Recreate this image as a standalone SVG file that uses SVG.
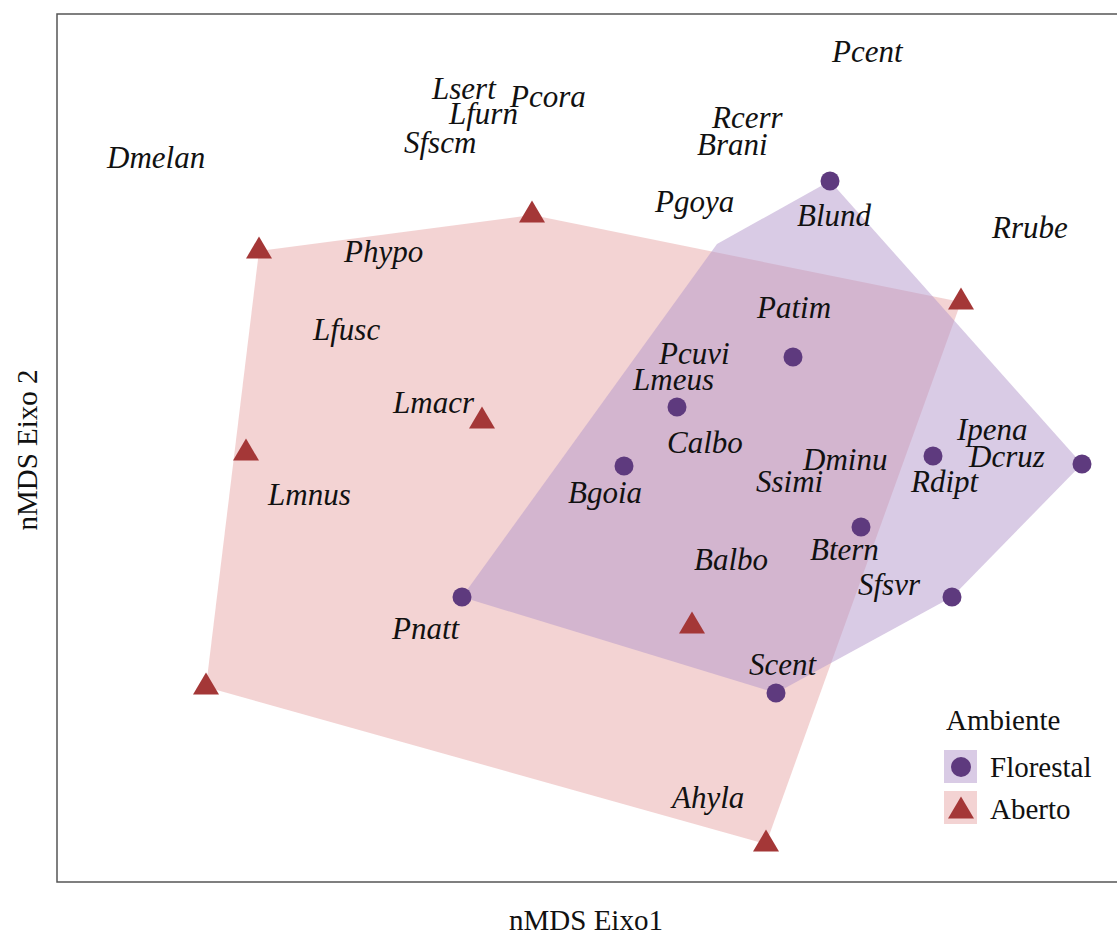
<svg xmlns="http://www.w3.org/2000/svg" width="1117" height="934" viewBox="0 0 1117 934">
<style>
.sp{font-family:"Liberation Serif","Times New Roman",serif;font-style:italic;font-size:31px;fill:#111}
.ax{font-family:"Liberation Serif","Times New Roman",serif;font-size:29px;fill:#111}
.flo{fill:#5e3a7e}
.abe{fill:#a43737}
.hp{fill:#e8a8a8;fill-opacity:0.5}
.hf{fill:#b497cc;fill-opacity:0.5}
</style>
<defs>
<path id="tri" d="M0,-14.5 L13,7.5 L-13,7.5 Z"/>
</defs>
<rect x="0" y="0" width="1117" height="934" fill="#fff"/>
<g id="hulls">
<polygon id="hull-aberto" class="hp" points="259,251 532,215 961,302 766,844 206,687"/>
<polygon id="hull-florestal" class="hf" points="830,181 717,244 462,597 776,693 952,597 1082,464"/>
</g>
<g id="points">
<g id="flo1"><circle class="flo" cx="830" cy="181" r="9.5"/></g>
<g id="flo2"><circle class="flo" cx="793" cy="357" r="9.5"/></g>
<g id="flo3"><circle class="flo" cx="677" cy="407" r="9.5"/></g>
<g id="flo4"><circle class="flo" cx="624" cy="466" r="9.5"/></g>
<g id="flo5"><circle class="flo" cx="933" cy="456" r="9.5"/></g>
<g id="flo6"><circle class="flo" cx="1082" cy="464" r="9.5"/></g>
<g id="flo7"><circle class="flo" cx="861" cy="527" r="9.5"/></g>
<g id="flo8"><circle class="flo" cx="462" cy="597" r="9.5"/></g>
<g id="flo9"><circle class="flo" cx="952" cy="597" r="9.5"/></g>
<g id="flo10"><circle class="flo" cx="776" cy="693" r="9.5"/></g>
<g id="abe1"><use href="#tri" class="abe" x="259" y="251"/></g>
<g id="abe2"><use href="#tri" class="abe" x="532" y="215"/></g>
<g id="abe3"><use href="#tri" class="abe" x="961" y="302"/></g>
<g id="abe4"><use href="#tri" class="abe" x="482" y="421"/></g>
<g id="abe5"><use href="#tri" class="abe" x="246" y="453"/></g>
<g id="abe6"><use href="#tri" class="abe" x="692" y="626"/></g>
<g id="abe7"><use href="#tri" class="abe" x="206" y="687"/></g>
<g id="abe8"><use href="#tri" class="abe" x="766" y="844"/></g>
</g>
<g id="labels">
<text class="sp" x="832" y="62">Pcent</text>
<text class="sp" x="432" y="99">Lsert</text>
<text class="sp" x="510" y="107">Pcora</text>
<text class="sp" x="449" y="124">Lfurn</text>
<text class="sp" x="404" y="153">Sfscm</text>
<text class="sp" x="712" y="128">Rcerr</text>
<text class="sp" x="697" y="155">Brani</text>
<text class="sp" x="107" y="168">Dmelan</text>
<text class="sp" x="655" y="212">Pgoya</text>
<text class="sp" x="797" y="226">Blund</text>
<text class="sp" x="992" y="238">Rrube</text>
<text class="sp" x="344" y="262">Phypo</text>
<text class="sp" x="757" y="318">Patim</text>
<text class="sp" x="313" y="340">Lfusc</text>
<text class="sp" x="659" y="364">Pcuvi</text>
<text class="sp" x="633" y="390">Lmeus</text>
<text class="sp" x="393" y="413">Lmacr</text>
<text class="sp" x="957" y="440">Ipena</text>
<text class="sp" x="667" y="453">Calbo</text>
<text class="sp" x="803" y="470">Dminu</text>
<text class="sp" x="969" y="467">Dcruz</text>
<text class="sp" x="756" y="492">Ssimi</text>
<text class="sp" x="911" y="492">Rdipt</text>
<text class="sp" x="568" y="503">Bgoia</text>
<text class="sp" x="268" y="505">Lmnus</text>
<text class="sp" x="810" y="560">Btern</text>
<text class="sp" x="694" y="570">Balbo</text>
<text class="sp" x="858" y="595">Sfsvr</text>
<text class="sp" x="392" y="639">Pnatt</text>
<text class="sp" x="749" y="675">Scent</text>
<text class="sp" x="672" y="808">Ahyla</text>
</g>
<rect id="frame" x="57" y="14" width="1080" height="868" fill="none" stroke="#555" stroke-width="1.5"/>
<g id="axes">
<text class="ax" x="586" y="930" text-anchor="middle">nMDS Eixo1</text>
<text class="ax" transform="translate(37,450) rotate(-90)" text-anchor="middle">nMDS Eixo 2</text>
</g>
<g id="legend">
<text class="ax" x="946" y="730">Ambiente</text>
<rect class="hf" x="944" y="750" width="33" height="33"/>
<circle class="flo" cx="961" cy="767" r="10"/>
<text class="ax" x="990" y="777">Florestal</text>
<rect class="hp" x="944" y="791" width="33" height="33"/>
<use href="#tri" class="abe" x="961" y="811"/>
<text class="ax" x="990" y="819">Aberto</text>
</g>
</svg>
